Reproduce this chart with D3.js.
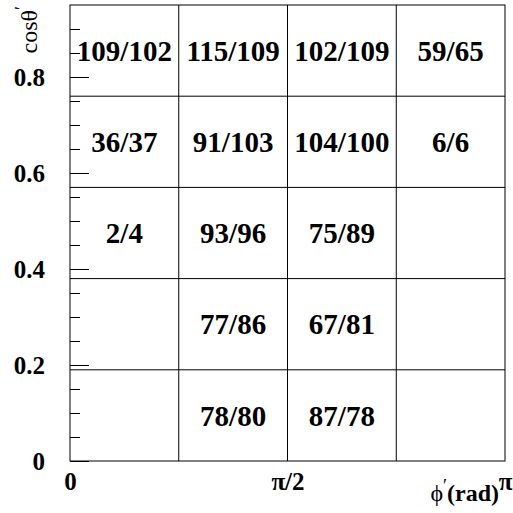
<!DOCTYPE html>
<html>
<head>
<meta charset="utf-8">
<script src="https://cdn.jsdelivr.net/npm/d3@7"></script>
<style>
  html, body { margin: 0; padding: 0; background: #fff; }
  svg { display: block; }
  svg text { font-family: "Liberation Serif", Tinos, "Times New Roman", Times, "Nimbus Roman", "DejaVu Serif", serif !important; }
</style>
</head>
<body>
<script>
// Bin edges of the 2D map: phi' (rad) across, cos(theta') up
const phiEdges = [0, Math.PI / 4, Math.PI / 2, 3 * Math.PI / 4, Math.PI];
const cosEdges = [0, 0.19, 0.38, 0.57, 0.76, 0.95];

// Counts per cell, rows listed from the lowest cos bin upward; null = empty cell
const observed = [
  [null, 78, 87, null],
  [null, 77, 67, null],
  [2, 93, 75, null],
  [36, 91, 104, 6],
  [109, 115, 102, 59]
];
const expected = [
  [null, 80, 78, null],
  [null, 86, 81, null],
  [4, 96, 89, null],
  [37, 103, 100, 6],
  [102, 109, 109, 65]
];

// Axis tick values and labels
const yMajorTicks = [0, 0.2, 0.4, 0.6, 0.8];
const yMinorTicks = [0.05, 0.1, 0.15, 0.25, 0.3, 0.35, 0.45, 0.5, 0.55, 0.65, 0.7, 0.75, 0.85, 0.9];
const xTickValues = [0, Math.PI / 2, Math.PI];
const xTickLabels = ["0", "\u03C0/2", "\u03C0"];

const W = 513, H = 513;
const frame = { left: 70, right: 505, top: 5, bottom: 461 };
const serif = '"Liberation Serif", Tinos, "Times New Roman", Times, "Nimbus Roman", "DejaVu Serif", serif';

const svg = d3.select("body").append("svg")
  .attr("width", W).attr("height", H)
  .attr("font-family", serif);

const x = d3.scaleLinear().domain([0, Math.PI]).range([frame.left, frame.right]);
const y = d3.scaleLinear().domain([0, 0.95]).range([frame.bottom, frame.top]);

// Cell grid lines
const g = svg.append("g");
g.selectAll("line.v").data(phiEdges.slice(1, -1)).join("line")
  .attr("x1", d => x(d)).attr("x2", d => x(d))
  .attr("y1", frame.top).attr("y2", frame.bottom)
  .attr("stroke", "#000").attr("stroke-width", 1);
g.selectAll("line.h").data(cosEdges.slice(1, -1)).join("line")
  .attr("x1", frame.left).attr("x2", frame.right)
  .attr("y1", d => y(d)).attr("y2", d => y(d))
  .attr("stroke", "#000").attr("stroke-width", 1);

// Frame
svg.append("rect")
  .attr("x", frame.left).attr("y", frame.top)
  .attr("width", frame.right - frame.left).attr("height", frame.bottom - frame.top)
  .attr("fill", "none").attr("stroke", "#000").attr("stroke-width", 1);

// Y axis: major ticks with labels, minor ticks without
const yMajor = svg.append("g").attr("transform", `translate(${frame.left},0)`)
  .call(d3.axisLeft(y).tickValues(yMajorTicks).tickSize(-19).tickSizeOuter(0).tickPadding(25)
    .tickFormat(d => d === 0 ? "0" : d3.format(".1f")(d)));
yMajor.attr("font-family", serif);
yMajor.select(".domain").remove();
yMajor.selectAll("line").attr("stroke", "#000");
yMajor.selectAll("text")
  .attr("font-weight", "bold").attr("font-size", 25).attr("fill", "#000");

const yMinor = svg.append("g").attr("transform", `translate(${frame.left},0)`)
  .call(d3.axisLeft(y).tickValues(yMinorTicks).tickSize(-10).tickSizeOuter(0).tickFormat(""));
yMinor.select(".domain").remove();
yMinor.selectAll("line").attr("stroke", "#000");

// X axis: labels only
const xAxis = svg.append("g").attr("transform", `translate(0,${frame.bottom})`)
  .call(d3.axisBottom(x).tickValues(xTickValues).tickSize(0).tickPadding(11)
    .tickFormat((d, i) => xTickLabels[i]));
xAxis.attr("font-family", serif);
xAxis.select(".domain").remove();
xAxis.selectAll("text")
  .attr("font-weight", "bold").attr("font-size", 25).attr("fill", "#000");

// Cell labels "observed/expected"
const cells = [];
observed.forEach((row, r) => row.forEach((o, c) => {
  if (o !== null) cells.push({ r, c, text: `${o}/${expected[r][c]}` });
}));
svg.append("g").selectAll("text").data(cells).join("text")
  .attr("x", d => (x(phiEdges[d.c]) + x(phiEdges[d.c + 1])) / 2)
  .attr("y", d => (y(cosEdges[d.r]) + y(cosEdges[d.r + 1])) / 2)
  .attr("dy", "0.35em")
  .attr("text-anchor", "middle")
  .attr("font-weight", "bold").attr("font-size", 29)
  .text(d => d.text);

// Axis titles
const xt = svg.append("text")
  .attr("x", 499).attr("y", 501).attr("text-anchor", "end").attr("font-size", 24);
xt.append("tspan").text("\u03D5");
xt.append("tspan").attr("dy", -9).attr("font-size", 18).text("\u2032");
xt.append("tspan").attr("dy", 9).attr("font-weight", "bold").text("(rad)");

const yt = svg.append("text")
  .attr("transform", "translate(37,6) rotate(-90)")
  .attr("text-anchor", "end").attr("font-size", 24);
yt.append("tspan").text("cos\u03B8");
yt.append("tspan").attr("dy", -9).attr("font-size", 18).text("\u2032");
</script>
</body>
</html>
